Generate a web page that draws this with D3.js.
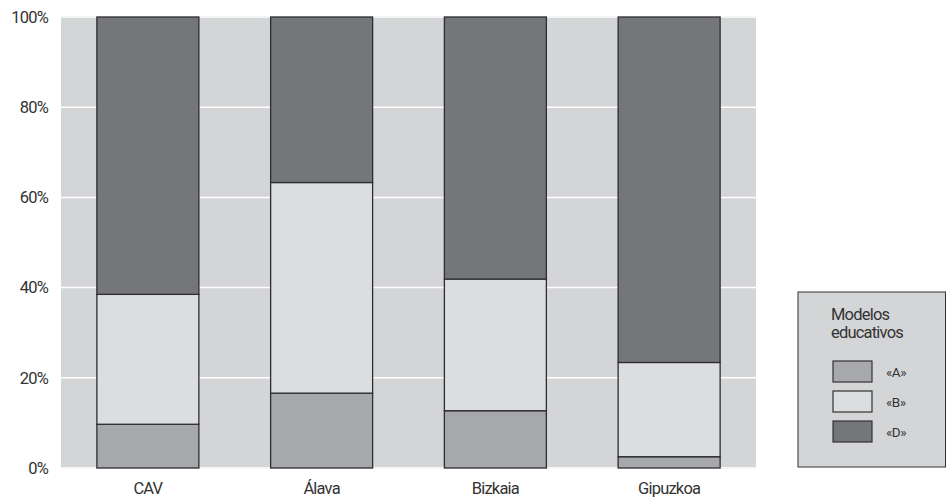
<!DOCTYPE html>
<html><head><meta charset="utf-8">
<script src="https://cdn.jsdelivr.net/npm/d3@7"></script>
<style>body{margin:0;background:#fff}svg{display:block}text{font-family:Roboto,"DejaVu Sans Condensed",sans-serif;font-weight:400;fill:#333}</style>
</head><body><svg id="c" width="947" height="503"></svg>
<script>
const categories = ["CAV","Álava","Bizkaia","Gipuzkoa"];
const seriesNames = ["«A»","«B»","«D»"];
const valuesA = [9.7,16.6,12.7,2.5];
const valuesB = [28.8,46.7,29.2,20.9];
const valuesD = [61.5,36.7,58.1,76.6];
const yTicks = [0,20,40,60,80,100];
const colors = ["#a7a8ab","#dcdddf","#75767a"];

const svg = d3.select("#c");
const m = {l:61, r:947-756, t:17, b:503-468};
const W = 947, H = 503;
const x = d3.scaleBand().domain(categories).range([m.l, W-m.r]).paddingInner(0.413).paddingOuter(0.2065);
const y = d3.scaleLinear().domain([0,100]).range([H-m.b, m.t]);

svg.append("rect").attr("x",m.l).attr("y",m.t-1).attr("width",W-m.r-m.l).attr("height",H-m.b-m.t+2).attr("fill","#d4d5d7");
svg.append("g").selectAll("line").data(yTicks).join("line")
  .attr("x1",m.l).attr("x2",W-m.r).attr("y1",d=>y(d)).attr("y2",d=>y(d))
  .attr("stroke","#fff").attr("stroke-width",1.5);

const table = categories.map((c,i)=>({cat:c,"«A»":valuesA[i],"«B»":valuesB[i],"«D»":valuesD[i]}));
const stack = d3.stack().keys(seriesNames)(table);
svg.append("g").selectAll("g").data(stack).join("g").attr("fill",(d,i)=>colors[i])
  .selectAll("rect").data(d=>d).join("rect")
  .attr("x",d=>x(d.data.cat)).attr("width",x.bandwidth())
  .attr("y",d=>y(d[1])).attr("height",d=>y(d[0])-y(d[1]))
  .attr("stroke","#2e2e30").attr("stroke-width",1.3);

const fontCss = 'Roboto,"DejaVu Sans Condensed",sans-serif';
const ya = svg.append("g").attr("transform",`translate(${m.l},0)`)
  .call(d3.axisLeft(y).tickValues(yTicks).tickFormat(d=>d+"%").tickSize(0).tickPadding(13));
ya.select(".domain").remove();
ya.selectAll("text").attr("font-size",16.5).style("font-family",fontCss).style("font-weight",400).style("letter-spacing","-0.8px").attr("fill","#333");
const xa = svg.append("g").attr("transform",`translate(0,${H-m.b})`)
  .call(d3.axisBottom(x).tickSize(0).tickPadding(14));
xa.select(".domain").remove();
xa.selectAll("text").attr("font-size",16.5).style("font-family",fontCss).style("font-weight",400).style("letter-spacing","-0.8px").attr("fill","#333");

const lg = svg.append("g");
lg.append("rect").attr("x",798).attr("y",292).attr("width",147.5).attr("height",175).attr("fill","#d4d5d7").attr("stroke","#333").attr("stroke-width",1);
lg.append("text").attr("x",831).attr("y",320).attr("font-size",16.5).style("letter-spacing","-0.8px").text("Modelos");
lg.append("text").attr("x",831).attr("y",338).attr("font-size",16.5).style("letter-spacing","-0.8px").text("educativos");
seriesNames.forEach((s,i)=>{
  const yy = 361 + i*30;
  lg.append("rect").attr("x",833).attr("y",yy).attr("width",39).attr("height",21).attr("fill",colors[i]).attr("stroke","#333").attr("stroke-width",1.2);
  lg.append("text").attr("x",886).attr("y",yy+16).attr("font-size",13.5).style("letter-spacing","-0.5px").text(s);
});
</script></body></html>
